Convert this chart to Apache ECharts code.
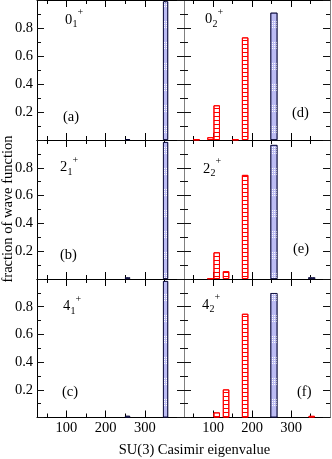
<!DOCTYPE html>
<html>
<head>
<meta charset="utf-8">
<script src="https://cdn.jsdelivr.net/npm/echarts@6/dist/echarts.min.js"></script>
<style>
  html, body { margin: 0; padding: 0; background: #fff; }
  #chart { width: 332px; height: 459px; }
</style>
</head>
<body>
<div id="chart"></div>
<script>
// SU(3) Casimir eigenvalue of each bar
var redEigen = [57, 93, 109, 133, 157, 182, 353];
var blueEigen = [256, 353];

// fraction of wave function, panels (a) .. (f)
var redA = [0, 0, 0, 0, 0, 0, 0];
var redB = [0, 0, 0, 0, 0, 0, 0];
var redC = [0, 0, 0, 0, 0, 0, 0];
var redD = [0.004, 0.02, 0.248, 0, 0.004, 0.733, 0];
var redE = [0, 0.005, 0.192, 0.056, 0, 0.749, 0];
var redF = [0, 0, 0.037, 0.203, 0, 0.749, 0.012];

var blueA = [0.006, 0.99];
var blueB = [0.012, 0.985];
var blueC = [0.012, 0.985];
var blueD = [0.909, 0];
var blueE = [0.964, 0.012];
var blueF = [0.898, 0];

// ticks and labels
var xMajor = [100, 200, 300];
var xMinor = [50, 150, 250, 350];
var yLabels = [0.2, 0.4, 0.6, 0.8];

var states = [['0', '1'], ['2', '1'], ['4', '1'], ['0', '2'], ['2', '2'], ['4', '2']];
var tags = ['(a)', '(b)', '(c)', '(d)', '(e)', '(f)'];

var redData = [redA, redB, redC, redD, redE, redF];
var blueData = [blueA, blueB, blueC, blueD, blueE, blueF];

var FONT = '"Liberation Serif", "Times New Roman", serif';
var cols = [{ left: 37, width: 147 }, { left: 184, width: 146 }];
var rows = [{ top: 0, height: 140 }, { top: 140, height: 139 }, { top: 279, height: 138.5 }];

// where the state names and tags sit in each panel
var statePos = [[65, 20], [60, 167.5], [63, 306.5], [205, 19.5], [203, 169], [202, 305]];
var tagPos = [[63, 117], [60, 255], [62, 392], [292, 113], [293, 249], [297, 392]];

var grids = [], xAxes = [], yAxes = [], series = [], graphics = [];

function xAxisDef(gi, pos, ticks, len, showLine, labels) {
  return {
    type: 'value', gridIndex: gi, position: pos, min: 25, max: 400,
    axisLine: { show: showLine, onZero: false, lineStyle: { color: '#000', width: 1 } },
    axisTick: { show: true, inside: true, length: len, customValues: ticks, lineStyle: { color: '#000' } },
    axisLabel: {
      show: labels, customValues: xMajor, margin: 3,
      fontFamily: FONT, fontSize: 14.5, color: '#000'
    },
    splitLine: { show: false }
  };
}

function yAxisDef(gi, pos, labels, lineColor) {
  return {
    type: 'value', gridIndex: gi, position: pos, min: 0, max: 1, interval: 0.2,
    axisLine: { show: true, lineStyle: { color: lineColor, width: 1 } },
    axisTick: { show: true, inside: true, length: 7, lineStyle: { color: '#111' } },
    minorTick: { show: true, splitNumber: 2, length: 4, lineStyle: { color: '#111' } },
    axisLabel: {
      show: labels, customValues: yLabels, margin: 4,
      fontFamily: FONT, fontSize: 14.5, color: '#000',
      formatter: function (v) { return v.toFixed(1); }
    },
    splitLine: { show: false }
  };
}

var blueDecal = {
  symbol: 'rect', symbolSize: 1,
  dashArrayX: [1, 1],
  dashArrayY: [1, 1, 1, 1, 1, 1, 1, 14],
  color: '#ffffff'
};
var redDecal = {
  symbol: 'rect', symbolSize: 1,
  dashArrayX: [1, 0],
  dashArrayY: [1, 2.4],
  color: '#ff0000'
};

for (var gi = 0; gi < 6; gi++) {
  var c = gi < 3 ? 0 : 1;
  var r = gi % 3;
  grids.push({ left: cols[c].left, width: cols[c].width, top: rows[r].top, height: rows[r].height });

  var bottomRow = r === 2;
  xAxes.push(xAxisDef(gi, 'bottom', xMajor, 7, true, bottomRow));
  xAxes.push(xAxisDef(gi, 'bottom', xMinor, 4, false, false));
  xAxes.push(xAxisDef(gi, 'top', xMajor, 7, true, false));
  xAxes.push(xAxisDef(gi, 'top', xMinor, 4, false, false));

  yAxes.push(yAxisDef(gi, 'left', c === 0, c === 0 ? '#000' : '#808080'));
  yAxes.push(yAxisDef(gi, 'right', false, '#808080'));

  var blue = [];
  blueEigen.forEach(function (x, i) { if (blueData[gi][i] > 0) blue.push([x, blueData[gi][i]]); });
  var red = [];
  redEigen.forEach(function (x, i) { if (redData[gi][i] > 0) red.push([x, redData[gi][i]]); });

  series.push({
    type: 'bar', xAxisIndex: gi * 4, yAxisIndex: gi * 2,
    data: blue, barWidth: c === 0 ? 5 : 7,
    itemStyle: { color: '#bcbcf4', borderColor: '#000033', borderWidth: 0.7, decal: blueDecal },
    silent: true
  });
  series.push({
    type: 'bar', xAxisIndex: gi * 4 + 1, yAxisIndex: gi * 2,
    data: red, barWidth: 6.5,
    itemStyle: { color: '#ffffff', borderColor: '#ff0000', borderWidth: 1, decal: redDecal },
    silent: true
  });

  var sx = statePos[gi][0], sy = statePos[gi][1];
  graphics.push({ type: 'text', x: sx, y: sy, style: { text: states[gi][0], font: '14.5px ' + FONT, fill: '#000', align: 'left', verticalAlign: 'middle', textAlign: 'left', textVerticalAlign: 'middle' } });
  graphics.push({ type: 'text', x: sx + 7.5, y: sy + 4.5, style: { text: states[gi][1], font: '10px ' + FONT, fill: '#000', align: 'left', verticalAlign: 'middle', textAlign: 'left', textVerticalAlign: 'middle' } });
  graphics.push({ type: 'text', x: sx + 12.5, y: sy - 7.5, style: { text: '+', font: '10px ' + FONT, fill: '#000', align: 'left', verticalAlign: 'middle', textAlign: 'left', textVerticalAlign: 'middle' } });
  graphics.push({ type: 'text', x: tagPos[gi][0], y: tagPos[gi][1], style: { text: tags[gi], font: '14.5px ' + FONT, fill: '#000', align: 'left', verticalAlign: 'middle', textAlign: 'left', textVerticalAlign: 'middle' } });
}

graphics.push({ type: 'text', x: 194.5, y: 450, style: { text: 'SU(3) Casimir eigenvalue', font: '14.5px ' + FONT, fill: '#000', align: 'center', verticalAlign: 'middle', textAlign: 'center', textVerticalAlign: 'middle' } });
graphics.push({ type: 'text', x: 8, y: 209, rotation: Math.PI / 2, style: { text: 'fraction of wave function', font: '14.5px ' + FONT, fill: '#000', align: 'center', verticalAlign: 'middle', textAlign: 'center', textVerticalAlign: 'middle' } });

var chart = echarts.init(document.getElementById('chart'), null, { renderer: 'canvas' });
chart.setOption({
  animation: false,
  backgroundColor: '#fff',
  grid: grids,
  xAxis: xAxes,
  yAxis: yAxes,
  series: series,
  graphic: graphics
});
</script>
</body>
</html>
